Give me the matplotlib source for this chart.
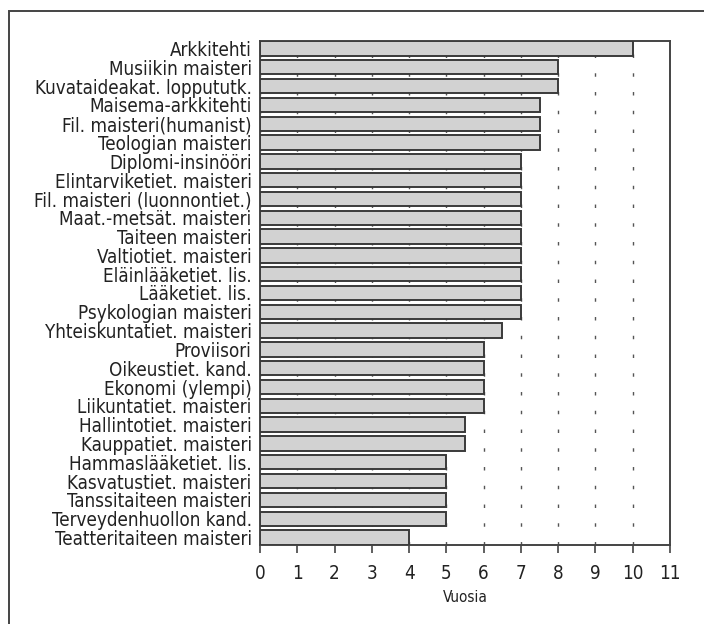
import matplotlib
matplotlib.use("Agg")
import matplotlib.pyplot as plt
from matplotlib.patches import Rectangle

# tutkinnot ja tavoiteaika vuosina
tutkinnot = [
    "Arkkitehti", "Musiikin maisteri", "Kuvataideakat. loppututk.",
    "Maisema-arkkitehti", "Fil. maisteri(humanist)", "Teologian maisteri",
    "Diplomi-insinööri", "Elintarviketiet. maisteri", "Fil. maisteri (luonnontiet.)",
    "Maat.-metsät. maisteri", "Taiteen maisteri", "Valtiotiet. maisteri",
    "Eläinlääketiet. lis.", "Lääketiet. lis.", "Psykologian maisteri",
    "Yhteiskuntatiet. maisteri", "Proviisori", "Oikeustiet. kand.",
    "Ekonomi (ylempi)", "Liikuntatiet. maisteri", "Hallintotiet. maisteri",
    "Kauppatiet. maisteri", "Hammaslääketiet. lis.", "Kasvatustiet. maisteri",
    "Tanssitaiteen maisteri", "Terveydenhuollon kand.", "Teatteritaiteen maisteri",
]
vuodet = [10, 8, 8, 7.5, 7.5, 7.5, 7, 7, 7, 7, 7, 7, 7, 7, 7, 6.5,
          6, 6, 6, 6, 5.5, 5.5, 5, 5, 5, 5, 4]
x_ticks = list(range(0, 12))

plt.rcParams["font.family"] = ["DejaVu Sans"]
plt.rcParams["font.stretch"] = "condensed"

fig = plt.figure(figsize=(7.04, 6.24), dpi=100)
ax = fig.add_axes([260 / 704, 1 - 545 / 624, 410 / 704, 504 / 624])

rivit = list(range(len(tutkinnot)))
ax.barh(rivit, vuodet, height=0.76, color="#d2d2d2", edgecolor="#3a3a3a",
        linewidth=1.4, zorder=3)

ax.set_xlim(0, 11)
ax.set_ylim(len(tutkinnot) - 0.6, -0.4)
ax.set_xticks(x_ticks)
ax.set_yticks(rivit)
ax.set_yticklabels(tutkinnot, fontsize=13.5, color="#222222")
ax.tick_params(axis="y", length=0, pad=6)
ax.tick_params(axis="x", direction="out", length=6, width=1.2, color="#444444",
               labelsize=13.5, labelcolor="#222222", pad=8)

ax.grid(axis="x", color="#555555", linewidth=1.0, linestyle=(0, (2.5, 11)),
        zorder=1)
ax.set_axisbelow(True)
for s in ax.spines.values():
    s.set_color("#444444")
    s.set_linewidth(1.4)

ax.set_xlabel("Vuosia", fontsize=11, color="#222222", labelpad=5)

# ulkoreunus
fig.add_artist(Rectangle((9 / 704, -0.1), 1.2, 1.1 - 11 / 624,
                         transform=fig.transFigure, fill=False,
                         edgecolor="#444444", linewidth=1.4))

fig.savefig("out.png", dpi=100)
